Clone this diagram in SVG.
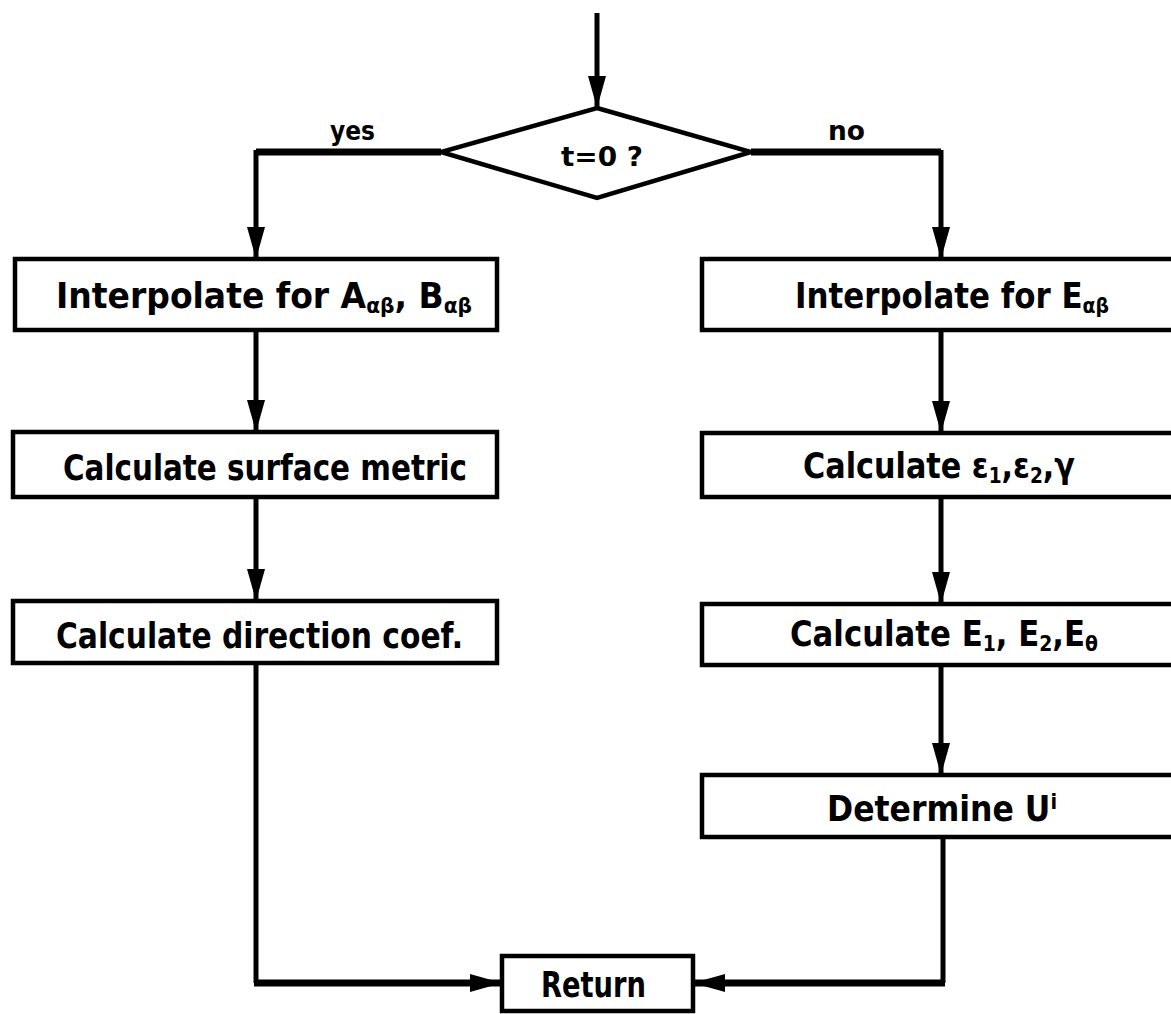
<svg xmlns="http://www.w3.org/2000/svg" width="1171" height="1014" viewBox="0 0 1171 1014">
<style>
.box{fill:#fff;stroke:#000;stroke-width:4.5}
.ln{fill:none;stroke:#000;stroke-width:5;stroke-linejoin:round}
.thk{fill:none;stroke:#000;stroke-width:7}
.t{font-family:"DejaVu Sans Condensed","Liberation Sans Narrow","Liberation Sans",sans-serif;font-weight:bold;font-size:36px;fill:#000}
.s{font-family:"DejaVu Sans Condensed","Liberation Sans Narrow","Liberation Sans",sans-serif;font-weight:bold;font-size:27px;fill:#000}
.sub{font-size:22px}
</style>
<defs>
<marker id="ah" markerUnits="userSpaceOnUse" markerWidth="32" markerHeight="18" refX="32" refY="9" orient="auto">
<path d="M0,0 L32,9 L0,18 z" fill="#000"/>
</marker>
</defs>
<rect width="1171" height="1014" fill="#fff"/>
<g id="connectors">
<line class="ln" x1="597" y1="13" x2="597" y2="108" marker-end="url(#ah)"/>
<path class="thk" d="M441,152 H256"/>
<path class="ln" d="M256,150 V259" marker-end="url(#ah)"/>
<path class="thk" d="M751,152 H941"/>
<path class="ln" d="M941,150 V259" marker-end="url(#ah)"/>
<line class="ln" x1="256" y1="330" x2="256" y2="432" marker-end="url(#ah)"/>
<line class="ln" x1="256" y1="497" x2="256" y2="601" marker-end="url(#ah)"/>
<path class="ln" d="M256,663 V983"/>
<path class="thk" d="M254,983 H502" marker-end="url(#ah)"/>
<line class="ln" x1="941" y1="330" x2="941" y2="433" marker-end="url(#ah)"/>
<line class="ln" x1="941" y1="497" x2="941" y2="604" marker-end="url(#ah)"/>
<line class="ln" x1="941" y1="665" x2="941" y2="775" marker-end="url(#ah)"/>
<path class="ln" d="M943,837 V983"/>
<path class="thk" d="M945,983 H693" marker-end="url(#ah)"/>
<text class="s" x="330" y="140" textLength="45" lengthAdjust="spacingAndGlyphs">yes</text>
<text class="s" x="828" y="140" textLength="37" lengthAdjust="spacingAndGlyphs">no</text>
</g>
<g id="decision">
<polygon class="box" points="597,108 751,152 597,198 441,152"/>
<text class="s" x="561" y="166" textLength="82" lengthAdjust="spacingAndGlyphs">t=0 ?</text>
</g>
<g id="interpA">
<rect class="box" x="15" y="259" width="482" height="71"/>
<text class="t" x="56" y="308" textLength="416" lengthAdjust="spacingAndGlyphs">Interpolate for A<tspan class="sub" baseline-shift="-5">αβ</tspan>, B<tspan class="sub" baseline-shift="-5">αβ</tspan></text>
</g>
<g id="interpE">
<rect class="box" x="702" y="259" width="490" height="71"/>
<text class="t" x="795" y="308" textLength="314" lengthAdjust="spacingAndGlyphs">Interpolate for E<tspan class="sub" baseline-shift="-5">αβ</tspan></text>
</g>
<g id="metric">
<rect class="box" x="13" y="432" width="484" height="65"/>
<text class="t" x="63" y="480" textLength="404" lengthAdjust="spacingAndGlyphs">Calculate surface metric</text>
</g>
<g id="strain">
<rect class="box" x="702" y="433" width="490" height="64"/>
<text class="t" x="803" y="478" textLength="272" lengthAdjust="spacingAndGlyphs">Calculate ε<tspan class="sub" baseline-shift="-5">1</tspan>,ε<tspan class="sub" baseline-shift="-5">2</tspan>,γ</text>
</g>
<g id="direction">
<rect class="box" x="13" y="601" width="484" height="62"/>
<text class="t" x="56" y="648" textLength="407" lengthAdjust="spacingAndGlyphs">Calculate direction coef.</text>
</g>
<g id="moduli">
<rect class="box" x="702" y="604" width="490" height="61"/>
<text class="t" x="790" y="646" textLength="308" lengthAdjust="spacingAndGlyphs">Calculate E<tspan class="sub" baseline-shift="-5">1</tspan>, E<tspan class="sub" baseline-shift="-5">2</tspan>,E<tspan class="sub" baseline-shift="-5">θ</tspan></text>
</g>
<g id="determine">
<rect class="box" x="702" y="775" width="490" height="62"/>
<text class="t" x="827" y="821" textLength="230" lengthAdjust="spacingAndGlyphs">Determine U<tspan class="sub" baseline-shift="12">i</tspan></text>
</g>
<g id="return">
<rect class="box" x="502" y="956" width="191" height="55"/>
<text class="t" x="541" y="997" textLength="105" lengthAdjust="spacingAndGlyphs">Return</text>
</g>
</svg>
